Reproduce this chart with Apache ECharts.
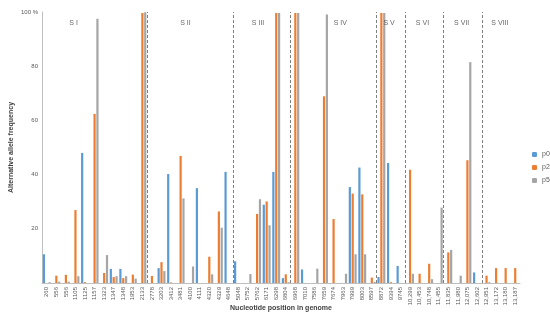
<!DOCTYPE html>
<html>
<head>
<meta charset="utf-8">
<script src="https://cdn.jsdelivr.net/npm/echarts@6/dist/echarts.min.js"></script>
<style>
html,body{margin:0;padding:0;background:#fff;}
#c{width:550px;height:320px;}
</style>
</head>
<body>
<div id="c"></div>
<script>
var categories = ["260","556","556","1105","1125","1157","1323","1347","1348","1953","2133",
"2778","3203","3412","3481","4100","4111","4320","4329","4648",
"5048","5752","5762","6171","6298","6804",
"6968","7010","7586","7659","7674","7963","7999","8003","8597",
"8872","9394","9745",
"10,299","10,453","10,748","11,455",
"11,835","11,980","12,075","12,602",
"12,951","13,172","13,180","13,187"];

var p0 = [10.6,0,0,0,48,0,0,5.2,5.2,0,0,
0,5.5,40.2,0,0,35,0,0,41,
8,0,0,28.9,41,1.8,
0,5,0,0,0,0,35.4,42.6,0,
2.2,44.3,6.3,
0,0,0,0,
0,0,0,3.9,
0,0,0,0];

var p2 = [0,2.7,3,26.9,0.3,62.4,3.7,2.2,1.8,3.1,99.6,
2.6,7.7,0.2,46.9,0,0,9.7,26.4,0,
0,0,25.5,30.1,99.6,3.2,
99.6,0,0,68.9,23.6,0,33,32.7,2,
99.6,0.3,0,
41.8,3.4,7.1,0,
11.3,0,45.3,0,
2.7,5.5,5.5,5.5];

var p5 = [0.3,0.5,0.5,2.5,0,97.5,10.3,2.5,2.5,1.6,99.9,
0,4.4,0,31.2,6.1,0,3.2,20.4,0,
0,3.3,30.9,21.3,99.6,0.3,
99.6,0,5.3,99.1,0,3.4,10.6,10.6,0.4,
99.6,0,0,
3.4,0,1.4,27.8,
12.2,2.7,81.5,0,
0.3,0,0,0];

var segmentNames = ["S I","S II","S III","S IV","S V","S VI","S VII","S VIII"];
var segmentStarts = [0,11,20,26,35,38,42,46];
var segmentLabelX = [3.3,15.0,22.6,31.2,36.3,39.8,43.9,47.9];
var yTicks = [0,20,40,60,80,100];

var colors = ['#5B9BD5','#ED7D31','#A5A5A5'];
var chart = echarts.init(document.getElementById('c'));
var font = 'Liberation Sans';
var barW = 2.2;

var divider = segmentStarts.slice(1).map(function(s){ return {xAxis: s}; });
var segLabels = segmentNames.map(function(n,i){ return {value:[segmentLabelX[i],96], name:n}; });

chart.setOption({
  animation:false,
  color: colors,
  textStyle:{fontFamily:font},
  grid:{left:42, right:30, top:12, bottom:37, containLabel:false, outerBoundsMode:'none'},
  legend:{
    orient:'vertical', left:527, top:146, itemWidth:5, itemHeight:5, itemGap:6,
    textStyle:{fontSize:7, color:'#595959', fontFamily:font},
    data:['p0','p2','p5']
  },
  xAxis:[{
    type:'category', data:categories,
    axisLine:{lineStyle:{color:'#bfbfbf'}},
    axisTick:{show:false},
    axisLabel:{rotate:90, fontSize:6, color:'#595959', interval:0, margin:4, fontFamily:font},
    name:'Nucleotide position in genome', nameLocation:'middle', nameGap:22, nameMoveOverlap:false,
    nameTextStyle:{fontSize:7, fontWeight:'bold', color:'#404040', fontFamily:font}
  },{
    type:'value', min:0, max:categories.length, show:false
  }],
  yAxis:{
    type:'value', min:0, max:100, interval:20,
    splitLine:{show:false},
    axisLine:{show:true, lineStyle:{color:'#bfbfbf'}},
    axisTick:{show:false},
    axisLabel:{fontSize:6, color:'#595959', margin:4, fontFamily:font,
      formatter:function(v){ if(v===0) return ''; return v===100 ? '100 %' : String(v); }},
    name:'Alternative allele frequency', nameLocation:'middle', nameGap:27, nameRotate:90, nameMoveOverlap:false,
    nameTextStyle:{fontSize:7, fontWeight:'bold', color:'#404040', fontFamily:font}
  },
  series:[
    {name:'p0', type:'bar', data:p0, barWidth:barW, barGap:'30%'},
    {name:'p2', type:'bar', data:p2, barWidth:barW, barGap:'30%'},
    {name:'p5', type:'bar', data:p5, barWidth:barW, barGap:'30%'},
    {name:'seg', type:'scatter', xAxisIndex:1, data:segLabels, symbolSize:0,
      label:{show:true, position:'inside', formatter:'{b}', fontSize:7, color:'#404040', fontFamily:font},
      markLine:{silent:true, symbol:'none', label:{show:false},
        lineStyle:{type:[3,2], color:'#7f7f7f', width:1},
        data:divider}
    }
  ]
});
</script>
</body>
</html>
